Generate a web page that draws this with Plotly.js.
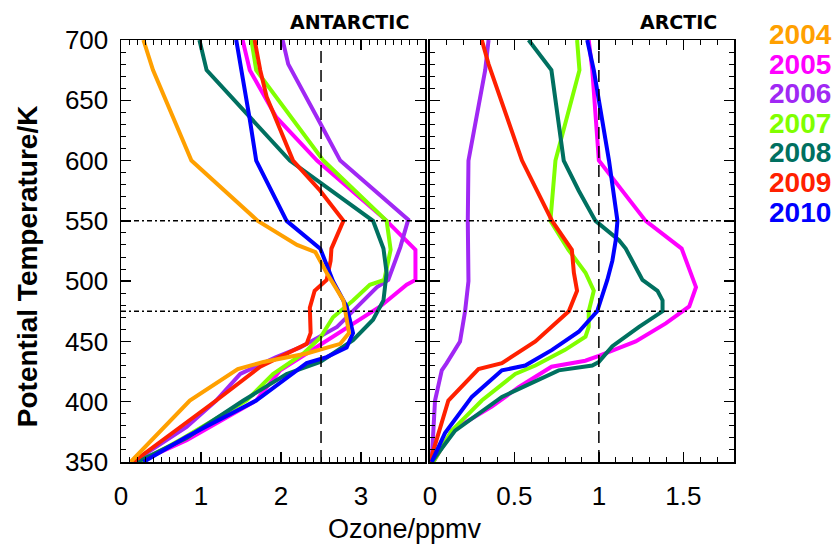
<!DOCTYPE html>
<html>
<head>
<meta charset="utf-8">
<script src="https://cdn.plot.ly/plotly-3.0.1.min.js"></script>
<style>html,body{margin:0;padding:0;background:#fff}</style>
</head>
<body>
<div id="chart" style="width:834px;height:544px"></div>
<script>
// ---------- Data ----------
const years = ['2004', '2005', '2006', '2007', '2008', '2009', '2010'];
const yearColors = ['#FFA000', '#FF00FF', '#A028F4', '#80FF00', '#007060', '#FF2000', '#0000FF'];

// Antarctic panel: potential temperature (K) and ozone (ppmv)
const ant2004_theta = [350, 401, 427, 433, 440, 448, 457, 484, 507, 524, 530, 550, 600, 675, 700];
const ant2004_o3    = [0.12, 0.86, 1.46, 1.78, 2.32, 2.74, 2.85, 2.78, 2.57, 2.43, 2.20, 1.71, 0.88, 0.40, 0.28];

const ant2005_theta = [350, 368, 401, 426, 440, 454, 465, 479, 497, 501, 526, 550, 600, 636, 675, 700];
const ant2005_o3    = [0.22, 0.82, 1.69, 1.99, 2.32, 2.65, 2.90, 3.24, 3.57, 3.68, 3.68, 3.32, 2.45, 1.94, 1.61, 1.52];

const ant2006_theta = [350, 379, 401, 423, 437, 445, 462, 479, 495, 501, 528, 551, 600, 631, 675, 680, 700];
const ant2006_o3    = [0.15, 0.82, 1.19, 1.49, 1.94, 2.24, 2.70, 2.95, 3.20, 3.34, 3.49, 3.59, 2.74, 2.49, 2.13, 2.09, 2.02];

const ant2007_theta = [350, 370, 401, 423, 440, 453, 470, 484, 497, 501, 526, 550, 600, 675, 700];
const ant2007_o3    = [0.25, 0.78, 1.57, 1.90, 2.28, 2.49, 2.65, 2.90, 3.11, 3.29, 3.37, 3.32, 2.53, 1.69, 1.63];

const ant2008_theta = [350, 370, 401, 423, 433, 440, 451, 468, 484, 507, 527, 550, 600, 675, 700];
const ant2008_o3    = [0.20, 0.82, 1.53, 2.07, 2.49, 2.65, 2.90, 3.15, 3.28, 3.32, 3.28, 3.15, 2.11, 1.07, 0.98];

const ant2009_theta = [350, 401, 429, 440, 448, 457, 478, 492, 501, 517, 527, 550, 575, 600, 653, 675, 700];
const ant2009_o3    = [0.15, 1.19, 1.74, 2.07, 2.32, 2.37, 2.36, 2.42, 2.57, 2.62, 2.63, 2.78, 2.49, 2.15, 1.82, 1.74, 1.67];

const ant2010_theta = [350, 371, 401, 426, 432, 437, 445, 457, 479, 500, 527, 550, 600, 634, 675, 700];
const ant2010_o3    = [0.28, 0.82, 1.69, 2.20, 2.32, 2.57, 2.82, 2.90, 2.82, 2.65, 2.49, 2.07, 1.69, 1.61, 1.51, 1.44];

// Arctic panel
const arc2005_theta = [350, 376, 396, 412, 429, 434, 438, 450, 465, 479, 495, 527, 550, 600, 675, 700];
const arc2005_o3    = [0.02, 0.13, 0.366, 0.525, 0.72, 0.92, 1.0, 1.218, 1.396, 1.535, 1.575, 1.49, 1.277, 1.0, 0.961, 0.94];

const arc2006_theta = [350, 401, 426, 432, 450, 475, 500, 550, 600, 675, 700];
const arc2006_o3    = [0.01, 0.03, 0.07, 0.099, 0.178, 0.208, 0.228, 0.224, 0.228, 0.327, 0.347];

const arc2007_theta = [350, 376, 401, 423, 430, 443, 454, 462, 475, 492, 507, 526, 550, 600, 675, 700];
const arc2007_o3    = [0.02, 0.129, 0.307, 0.505, 0.624, 0.80, 0.921, 0.94, 0.94, 0.97, 0.921, 0.82, 0.713, 0.743, 0.885, 0.871];

const arc2008_theta = [350, 376, 404, 426, 430, 433, 446, 462, 475, 484, 492, 501, 527, 534, 550, 575, 600, 675, 700];
const arc2008_o3    = [0.01, 0.149, 0.426, 0.762, 0.961, 1.0, 1.08, 1.238, 1.377, 1.377, 1.347, 1.258, 1.159, 1.119, 0.98, 0.881, 0.792, 0.719, 0.584];

const arc2009_theta = [350, 401, 427, 432, 450, 465, 475, 492, 507, 526, 550, 600, 680, 700];
const arc2009_o3    = [0.0, 0.109, 0.287, 0.426, 0.624, 0.743, 0.822, 0.871, 0.852, 0.84, 0.723, 0.545, 0.347, 0.307];

const arc2010_theta = [350, 374, 404, 426, 430, 443, 458, 475, 501, 517, 534, 550, 600, 675, 700];
const arc2010_o3    = [0.01, 0.089, 0.248, 0.426, 0.564, 0.723, 0.881, 0.99, 1.05, 1.08, 1.10, 1.11, 1.06, 0.970, 0.931];

const xTicksAnt = [0, 1, 2, 3];
const xTicksArc = [0, 0.5, 1, 1.5];
const refOzoneAnt = 2.5;
const refOzoneArc = 1;
const refTheta = [550, 475];

// ---------- Traces ----------
const antSeries = {
  '2004': [ant2004_o3, ant2004_theta], '2005': [ant2005_o3, ant2005_theta],
  '2006': [ant2006_o3, ant2006_theta], '2007': [ant2007_o3, ant2007_theta],
  '2008': [ant2008_o3, ant2008_theta], '2009': [ant2009_o3, ant2009_theta],
  '2010': [ant2010_o3, ant2010_theta]
};
const arcSeries = {
  '2005': [arc2005_o3, arc2005_theta], '2006': [arc2006_o3, arc2006_theta],
  '2007': [arc2007_o3, arc2007_theta], '2008': [arc2008_o3, arc2008_theta],
  '2009': [arc2009_o3, arc2009_theta], '2010': [arc2010_o3, arc2010_theta]
};
const drawOrder = ['2005', '2006', '2007', '2008', '2009', '2010', '2004'];
const traces = [];
drawOrder.forEach(yr => {
  const c = yearColors[years.indexOf(yr)];
  if (antSeries[yr]) traces.push({x: antSeries[yr][0], y: antSeries[yr][1], xaxis: 'x', yaxis: 'y',
    mode: 'lines', line: {color: c, width: 4}, showlegend: false, hoverinfo: 'skip'});
  if (arcSeries[yr]) traces.push({x: arcSeries[yr][0], y: arcSeries[yr][1], xaxis: 'x2', yaxis: 'y2',
    mode: 'lines', line: {color: c, width: 4}, showlegend: false, hoverinfo: 'skip'});
});

// ---------- Layout ----------
const FONT = 'Liberation Sans, Arial, sans-serif';
const baseAxis = {
  showline: true, linecolor: '#000', linewidth: 1.5, mirror: 'allticks',
  ticks: 'inside', ticklen: 10, tickwidth: 1.5, tickcolor: '#000',
  showgrid: false, zeroline: false,
  tickfont: {family: FONT, size: 26, color: '#000'}
};
const plotTop = 40, plotBot = 461.7, plotL = 121, plotR = 734;
const py = p => (plotBot - p) / (plotBot - plotTop);
const px = p => (p - plotL) / (plotR - plotL);

const annotations = [
  {text: 'ANTARCTIC', xref: 'paper', yref: 'paper', x: px(411), y: py(22), xanchor: 'right', yanchor: 'middle',
   showarrow: false, font: {family: 'DejaVu Sans, sans-serif', size: 19, color: '#000', weight: 'bold'}},
  {text: 'ARCTIC', xref: 'paper', yref: 'paper', x: px(719), y: py(22), xanchor: 'right', yanchor: 'middle',
   showarrow: false, font: {family: 'DejaVu Sans, sans-serif', size: 19, color: '#000', weight: 'bold'}},
  {text: 'Potential Temperature/K', xref: 'paper', yref: 'paper', x: px(27), y: py(266), textangle: -90,
   xanchor: 'center', yanchor: 'middle', showarrow: false,
   font: {family: FONT, size: 28, color: '#000', weight: 'bold'}},
  {text: 'Ozone/ppmv', xref: 'paper', yref: 'paper', x: px(405), y: py(529), xanchor: 'center', yanchor: 'middle',
   showarrow: false, font: {family: FONT, size: 27, color: '#000'}}
];
years.forEach((yr, i) => {
  annotations.push({text: yr, xref: 'paper', yref: 'paper', x: px(767), y: py(34.5 + i * 29.6),
    xanchor: 'left', yanchor: 'middle', showarrow: false,
    font: {family: FONT, size: 28, color: yearColors[i], weight: 'bold'}});
});

const shapes = [
  {type: 'line', xref: 'x', yref: 'y', x0: refOzoneAnt, x1: refOzoneAnt, y0: 350, y1: 700,
   line: {color: '#000', width: 1.5, dash: '12px,7px'}},
  {type: 'line', xref: 'x2', yref: 'y2', x0: refOzoneArc, x1: refOzoneArc, y0: 350, y1: 700,
   line: {color: '#000', width: 1.5, dash: '12px,7px'}}
];
refTheta.forEach(t => {
  ['x domain', 'x2 domain'].forEach((xr, k) => {
    shapes.push({type: 'line', xref: xr, yref: k === 0 ? 'y' : 'y2', x0: 0, x1: 1, y0: t, y1: t,
      line: {color: '#000', width: 1.5, dash: '5px,3px,2px,3px'}});
  });
});

const layout = {
  width: 834, height: 544,
  margin: {l: 121, r: 100, t: 40, b: 82, pad: 0},
  paper_bgcolor: '#fff', plot_bgcolor: '#fff',
  showlegend: false,
  xaxis: Object.assign({}, baseAxis, {domain: [0, 0.496], range: [0, 3.8], anchor: 'y',
    tickmode: 'array', tickvals: xTicksAnt, ticktext: xTicksAnt.map(String), ticklabelstandoff: 10,
    minor: {dtick: 0.1, ticklen: 5, tickwidth: 1, tickcolor: '#000', ticks: 'inside'}}),
  xaxis2: Object.assign({}, baseAxis, {domain: [0.504, 1], range: [0, 1.8], anchor: 'y2',
    tickmode: 'array', tickvals: xTicksArc, ticktext: xTicksArc.map(String), ticklabelstandoff: 10,
    minor: {dtick: 0.1, ticklen: 5, tickwidth: 1, tickcolor: '#000', ticks: 'inside'}}),
  yaxis: Object.assign({}, baseAxis, {domain: [0, 1], range: [350, 700], anchor: 'x', dtick: 50, tick0: 350,
    ticklabelstandoff: 6,
    minor: {dtick: 10, ticklen: 5, tickwidth: 1, tickcolor: '#000', ticks: 'inside'}}),
  yaxis2: Object.assign({}, baseAxis, {domain: [0, 1], range: [350, 700], anchor: 'x2', matches: 'y',
    dtick: 50, tick0: 350, showticklabels: false,
    minor: {dtick: 10, ticklen: 5, tickwidth: 1, tickcolor: '#000', ticks: 'inside'}}),
  annotations: annotations,
  shapes: shapes
};

Plotly.newPlot('chart', traces, layout, {staticPlot: true, displayModeBar: false});
</script>
</body>
</html>
